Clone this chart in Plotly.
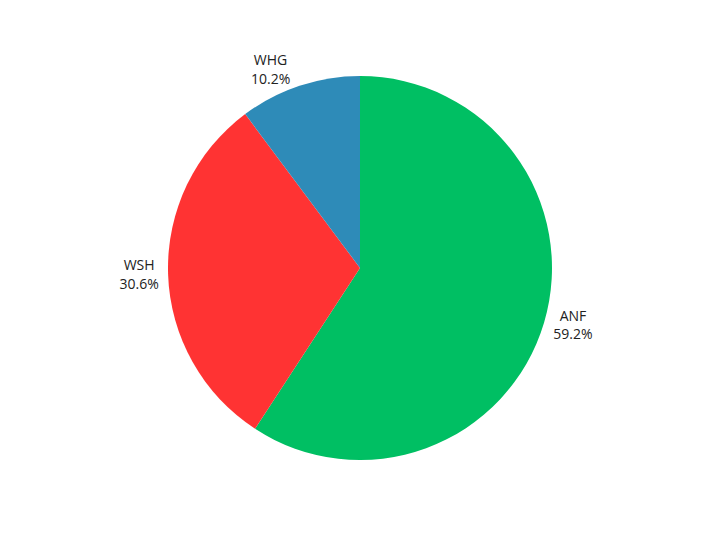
import plotly.graph_objects as go

labels = ["ANF", "WSH", "WHG"]
values = [59.2, 30.6, 10.2]
colors = ["#00BF63", "#FF3333", "#2E8BB8"]

fig = go.Figure(go.Pie(
    labels=labels, values=values,
    marker=dict(colors=colors),
    textinfo="label+percent", textposition="outside",
    textfont=dict(size=14, color="#222"),
    sort=False, direction="clockwise", rotation=0,
    showlegend=False,
))
fig.update_layout(width=720, height=535, paper_bgcolor="white",
                  margin=dict(l=38, r=122, t=68, b=83))
fig.write_html("out.html")
